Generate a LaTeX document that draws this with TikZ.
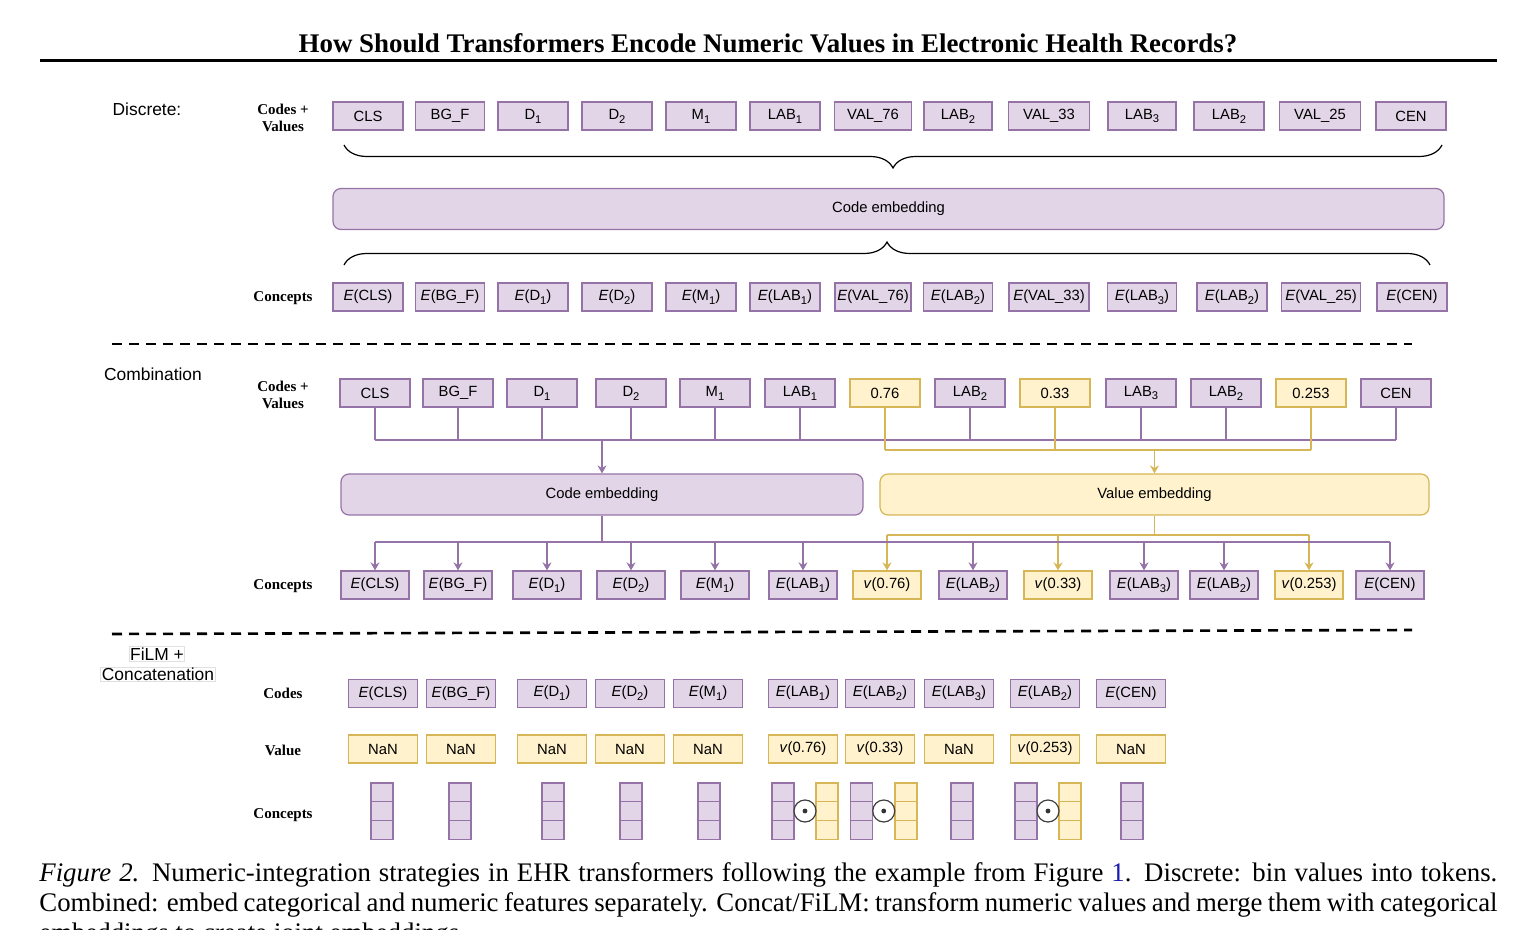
\documentclass[tikz,border=0pt]{standalone}
\usepackage{fontspec}
\setmainfont{Liberation Serif}
\setsansfont{Liberation Sans}
\usepackage{tikz}
\usetikzlibrary{arrows.meta,calc,decorations.pathreplacing}

\definecolor{pfill}{HTML}{E1D5E7}
\definecolor{pdraw}{HTML}{9673A6}
\definecolor{yfill}{HTML}{FFF2CC}
\definecolor{ydraw}{HTML}{D6B656}
\definecolor{linkblue}{HTML}{1A1AB0}

\newcommand{\boxfont}{\sffamily\fontsize{7.4}{8.5}\selectfont}
\newcommand{\sub}[1]{\raisebox{-0.5ex}{\fontsize{5.6}{6}\selectfont #1}}
% one column of three cells, centre x
\newcommand{\vecstack}[2]{%
  \foreach \j in {0,1,2}{\draw[#2] (#1-11,783+\j*18.7) rectangle ++(22,18.7);}}

\tikzset{
  pbox/.style={draw=pdraw,fill=pfill,line width=0.6pt,minimum height=14pt,
    minimum width=35pt,inner sep=0pt,font=\boxfont},
  ybox/.style={pbox,draw=ydraw,fill=yfill},
  embbox/.style={rounded corners=4pt,minimum height=20.5pt},
  pcell/.style={draw=pdraw,fill=pfill,line width=0.6pt},
  ycell/.style={draw=ydraw,fill=yfill,line width=0.6pt},
  pline/.style={draw=pdraw,line width=0.75pt},
  yline/.style={draw=ydraw,line width=0.75pt},
  seclab/.style={font=\sffamily\fontsize{8.7}{10}\selectfont,inner sep=0.5pt},
  rowlab/.style={font=\bfseries\fontsize{7.5}{8.6}\selectfont,align=center,inner sep=0pt},
  sepline/.style={line width=1.3pt,dash pattern=on 5pt off 3.5pt},
  bracket/.style={decorate,decoration={brace,amplitude=11.5pt},line width=0.6pt},
  odot/.style={circle,draw=black!75,fill=white,line width=0.6pt,minimum size=11pt,
    inner sep=0pt,path picture={\fill[black!80] (path picture bounding box.center) circle (1.2pt);}}
}

\begin{document}
\begin{tikzpicture}[x=0.5pt,y=-0.5pt,>={Stealth[length=4pt,width=4.5pt]}]
  \useasboundingbox (0,0) rectangle (1537,930);
  \clip (0,0) rectangle (1537,930);
  % ---------- page header
  \node[font=\bfseries\fontsize{13.45}{16}\selectfont] (title) at (768,43)
    {How Should Transformers Encode Numeric Values in Electronic Health Records?};
  \draw[line width=1.5pt] (40,61) -- (1497,61);

  % ---------- discrete
  \node[seclab] (lbd) at (147,109) {Discrete:};
  \node[rowlab] (rd1) at (283,118) {Codes +\\Values};
  \node[rowlab] (rd2) at (283,298) {Concepts};
  \foreach \x/\w/\t [count=\i] in {368/70/CLS,450/69/BG\_F,533/70/D\sub{1},617/70/D\sub{2},
      701/70/M\sub{1},785/70/LAB\sub{1},873/77/VAL\_76,958/68/LAB\sub{2},1049/81/VAL\_33,
      1142/68/LAB\sub{3},1229/70/LAB\sub{2},1320/81/VAL\_25,1411/70/CEN}
    \node[pbox,minimum width=\w*0.5pt] (dc\i) at (\x,116) {\t};
  \draw[bracket] (1442,145) -- (344,145);
  \node[pbox,embbox,minimum width=1111*0.5pt] (dce) at (888.5,209) {Code embedding};
  \draw[bracket] (344,265) -- (1430,265);
  \foreach \x/\w/\t [count=\i] in {368/70/\textit{E}(CLS),450/69/\textit{E}(BG\_F),
      533/70/\textit{E}(D\sub{1}),617/70/\textit{E}(D\sub{2}),701/70/\textit{E}(M\sub{1}),
      785/70/\textit{E}(LAB\sub{1}),873/76/\textit{E}(VAL\_76),958/69/\textit{E}(LAB\sub{2}),
      1049/80/\textit{E}(VAL\_33),1142/69/\textit{E}(LAB\sub{3}),1232/70/\textit{E}(LAB\sub{2}),
      1321/79/\textit{E}(VAL\_25),1412/70/\textit{E}(CEN)}
    \node[pbox,minimum width=\w*0.5pt] (de\i) at (\x,297) {\t};
  \draw[sepline] (112,344) -- (1412,344);

  % ---------- combination
  \node[seclab] (lbc) at (153,374) {Combination};
  \node[rowlab] (rc1) at (283,395) {Codes +\\Values};
  \node[rowlab] (rc2) at (283,586) {Concepts};
  \foreach \x/\k/\t [count=\i] in {375/pbox/CLS,458/pbox/BG\_F,542/pbox/D\sub{1},
      631/pbox/D\sub{2},715/pbox/M\sub{1},800/pbox/LAB\sub{1},885/ybox/0.76,
      970/pbox/LAB\sub{2},1055/ybox/0.33,1141/pbox/LAB\sub{3},1226/pbox/LAB\sub{2},
      1311/ybox/0.253,1396/pbox/CEN}
    \node[\k,minimum width=70*0.5pt] (cc\i) at (\x,393) {\t};
  \node[pbox,embbox,minimum width=522*0.5pt] (cce) at (602,494.5) {Code embedding};
  \node[ybox,embbox,minimum width=549*0.5pt] (cve) at (1154.5,494.5) {Value embedding};
  \foreach \x/\k/\t [count=\i] in {375/pbox/\textit{E}(CLS),458/pbox/\textit{E}(BG\_F),
      547/pbox/\textit{E}(D\sub{1}),631/pbox/\textit{E}(D\sub{2}),715/pbox/\textit{E}(M\sub{1}),
      803/pbox/\textit{E}(LAB\sub{1}),887/ybox/\textit{v}(0.76),973/pbox/\textit{E}(LAB\sub{2}),
      1058/ybox/\textit{v}(0.33),1144/pbox/\textit{E}(LAB\sub{3}),1224/pbox/\textit{E}(LAB\sub{2}),
      1309/ybox/\textit{v}(0.253),1390/pbox/\textit{E}(CEN)}
    \node[\k,minimum width=68*0.5pt] (ce\i) at (\x,585) {\t};
  \coordinate (pin) at (0,440);
  \coordinate (yin) at (0,450);
  \coordinate (yout) at (0,535);
  \coordinate (pout) at (0,542);
  % inputs into the two embeddings
  \foreach \i in {1,...,6,8,10,11,13}
    \draw[pline] (cc\i.south) -- (cc\i.south |- pin);
  \draw[pline] (cc1.south |- pin) -- (cc13.south |- pin);
  \draw[pline,->] (cce.north |- pin) -- (cce.north);
  \foreach \i in {7,9,12}
    \draw[yline] (cc\i.south) -- (cc\i.south |- yin);
  \draw[yline] (cc7.south |- yin) -- (cc12.south |- yin);
  \draw[yline,->] (cve.north |- yin) -- (cve.north);
  % embeddings out to the concepts
  \draw[yline] (cve.south) -- (cve.south |- yout);
  \draw[yline] (ce7.north |- yout) -- (ce12.north |- yout);
  \foreach \i in {7,9,12}
    \draw[yline,->] (ce\i.north |- yout) -- (ce\i.north);
  \draw[pline] (cce.south) -- (cce.south |- pout);
  \draw[pline] (ce1.north |- pout) -- (ce13.north |- pout);
  \foreach \i in {1,...,6,8,10,11,13}
    \draw[pline,->] (ce\i.north |- pout) -- (ce\i.north);
  \draw[sepline] (112,634) -- (1412,630);

  % ---------- FiLM + concatenation
  \node[seclab,draw=black!12,line width=0.4pt] (lbf1) at (157,654) {FiLM +};
  \node[seclab,draw=black!12,line width=0.4pt] (lbf2) at (158,674.5) {Concatenation};
  \node[rowlab] (rf1) at (283,693) {Codes};
  \node[rowlab] (rf2) at (283,750) {Value};
  \node[rowlab] (rf3) at (283,815) {Concepts};
  \foreach \x/\c/\v [count=\i] in {383/CLS/NaN,461/BG\_F/NaN,552/D\sub{1}/NaN,630/D\sub{2}/NaN,
      708/M\sub{1}/NaN,803/LAB\sub{1}/\textit{v}(0.76),880/LAB\sub{2}/\textit{v}(0.33),
      959/LAB\sub{3}/NaN,1045/LAB\sub{2}/\textit{v}(0.253),1131/CEN/NaN}{
    \node[pbox,minimum width=69*0.5pt] (fc\i) at (\x,693.5) {\textit{E}(\c)};
    \node[ybox,minimum width=69*0.5pt] (fv\i) at (\x,749) {\v};}
  \foreach \x in {382,460,553,631,709,962,1132}{
    \vecstack{\x}{pcell}}
  \foreach \x/\y [count=\i] in {783/827,861.5/906,1026/1070}{
    \vecstack{\x}{pcell}
    \vecstack{\y}{ycell}
    \node[odot] (fm\i) at ({(\x+\y)/2},811) {};}

  % ---------- caption
  \node[anchor=north west,text width=729pt,align=justify,inner sep=0pt,
    font=\fontsize{13.4}{15}\selectfont] (cap) at (39,862)
    {\textit{Figure 2.} Numeric-integration strategies in EHR transformers following the example
    from Figure~\textcolor{linkblue}{1}. Discrete: bin values into tokens.\linebreak
    Combined: embed categorical and numeric features separately. Concat/FiLM: transform numeric
    values and merge them with categorical\linebreak
    embeddings to create joint embeddings.};
\end{tikzpicture}
\end{document}
